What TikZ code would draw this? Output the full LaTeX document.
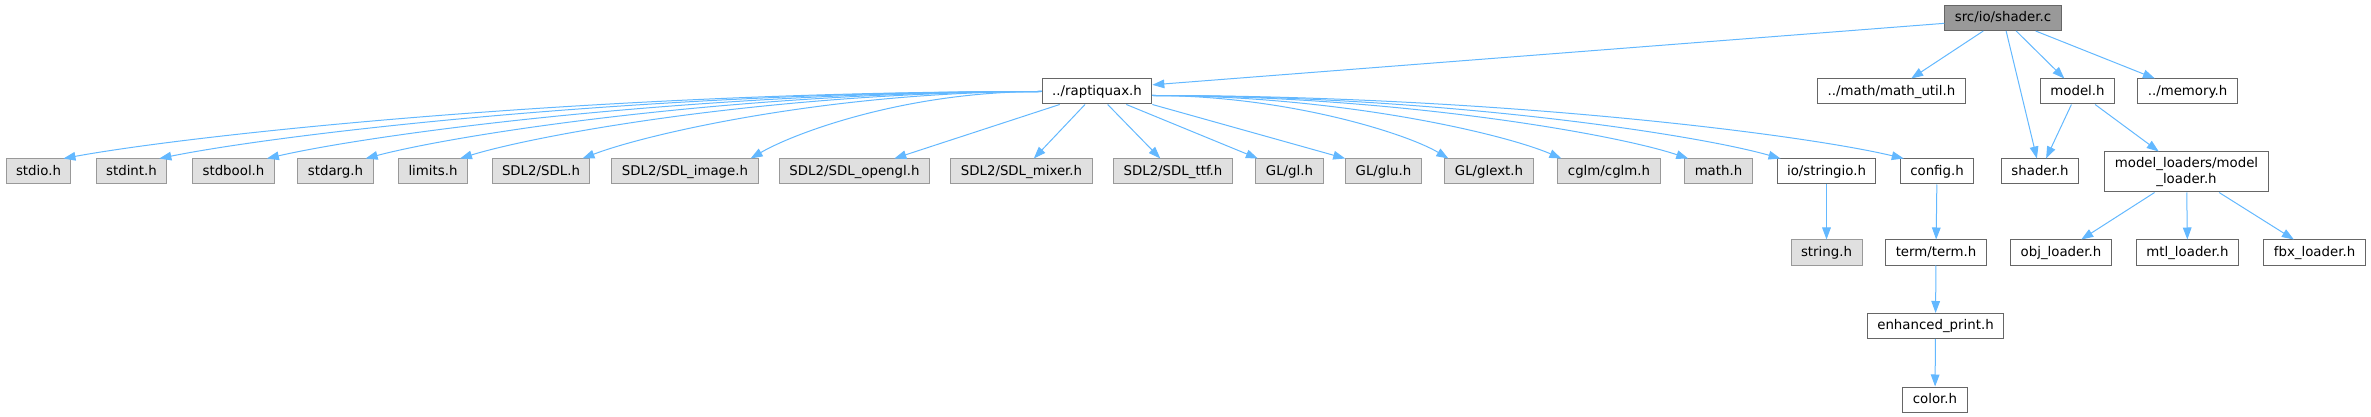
\documentclass[tikz,border=0pt]{standalone}
\usepackage{fontspec}
\setmainfont{DejaVu Sans}
\usetikzlibrary{arrows.meta}
\definecolor{edgeblue}{HTML}{63B8FF}
\definecolor{sysfill}{HTML}{E0E0E0}
\definecolor{sysline}{HTML}{999999}
\definecolor{locline}{HTML}{666666}
\definecolor{rootfill}{HTML}{999999}

\begin{document}
\begin{tikzpicture}[x=0.75pt,y=0.75pt,
    hdr/.style={draw,rectangle,font=\fontsize{10}{12}\selectfont,
        inner xsep=7.5pt,inner ysep=0pt,minimum height=18.75pt,line width=0.75pt},
    one/.style={hdr,text height=7.5pt,text depth=2pt},
    sys/.style={one,fill=sysfill,draw=sysline},
    loc/.style={one,fill=white,draw=locline},
    root/.style={one,fill=rootfill,draw=locline},
    dep/.style={draw=edgeblue,line width=0.75pt,
        -{Triangle[length=9pt,width=6.5pt]}}]
    \useasboundingbox (0,0) rectangle (2371,-417);

    % Fichero raiz y primer nivel de inclusiones.
    \node[root] (src) at (2003,-18) {src/io/shader.c};
    \node[loc] (rap) at (1097,-91.5) {../raptiquax.h};
    \node[loc] (mu) at (1891.5,-91.5) {../math/math\_util.h};
    \node[loc] (mdl) at (2077.5,-91.5) {model.h};
    \node[loc] (mem) at (2187.5,-91.5) {../memory.h};

    % Cabeceras del sistema y locales que cuelgan de raptiquax.h.
    \node[sys] (stdio) at (38.5,-171.5) {stdio.h};
    \node[sys] (stdint) at (131.5,-171.5) {stdint.h};
    \node[sys] (stdbool) at (233.5,-171.5) {stdbool.h};
    \node[sys] (stdarg) at (335.5,-171.5) {stdarg.h};
    \node[sys] (limits) at (433,-171.5) {limits.h};
    \node[sys] (sdl) at (541,-171.5) {SDL2/SDL.h};
    \node[sys] (sdlimg) at (685,-171.5) {SDL2/SDL\_image.h};
    \node[sys] (sdlgl) at (854.5,-171.5) {SDL2/SDL\_opengl.h};
    \node[sys] (mix) at (1021.5,-171.5) {SDL2/SDL\_mixer.h};
    \node[sys] (ttf) at (1173,-171.5) {SDL2/SDL\_ttf.h};
    \node[sys] (gl) at (1289.5,-171.5) {GL/gl.h};
    \node[sys] (glu) at (1383.5,-171.5) {GL/glu.h};
    \node[sys] (glext) at (1489,-171.5) {GL/glext.h};
    \node[sys] (cglm) at (1609,-171.5) {cglm/cglm.h};
    \node[sys] (mathh) at (1718.5,-171.5) {math.h};
    \node[loc] (sio) at (1826.5,-171.5) {io/stringio.h};
    \node[loc] (cfg) at (1937,-171.5) {config.h};
    \node[loc] (sh) at (2040,-171.5) {shader.h};
    \node[hdr,fill=white,draw=locline,align=center,minimum height=30pt]
        (ldr) at (2186.5,-172) {model\_loaders/model\\\_loader.h};

    % Niveles inferiores.
    \node[sys] (str) at (1826.5,-252.5) {string.h};
    \node[loc] (term) at (1936,-252.5) {term/term.h};
    \node[loc] (obj) at (2061,-252.5) {obj\_loader.h};
    \node[loc] (mtl) at (2187.5,-252.5) {mtl\_loader.h};
    \node[loc] (fbx) at (2314.5,-252.5) {fbx\_loader.h};
    \node[loc] (eprint) at (1935.5,-326) {enhanced\_print.h};
    \node[loc] (col) at (1935,-399.5) {color.h};

    % Aristas desde el fichero raiz.
    \draw[dep] ([yshift=-4pt]src.west) -- ([yshift=5pt]rap.east);
    \draw[dep] (src) -- (mu);
    \draw[dep] (src) -- (sh);
    \draw[dep] (src) -- (mdl);
    \draw[dep] (src) -- (mem);
    \draw[dep] (mdl) -- (sh);
    \draw[dep] (mdl) -- (ldr);
    \foreach \n in {obj,mtl,fbx}
        \draw[dep] (ldr) -- (\n);

    % Aristas de raptiquax.h: curvas a izquierda y derecha, rectas al centro.
    \foreach \n/\d in {stdio/976,stdint/883,stdbool/778,stdarg/678,
        limits/581,sdl/465,sdlimg/305}
        \draw[dep] (rap.west) .. controls +({-0.45*\d},0) and +({0.14*\d},25)
            .. ([xshift=-6pt]\n.north east);
    \draw[dep] ([xshift=-28pt]rap.south) -- (sdlgl);
    \draw[dep] ([xshift=-9pt]rap.south) -- (mix);
    \draw[dep] ([xshift=8pt]rap.south) -- (ttf);
    \draw[dep] ([xshift=22pt]rap.south) -- (gl);
    \draw[dep] (rap.south east) -- (glu.north west);
    \foreach \n/\d in {glext/299,cglm/416,mathh/534,sio/632,cfg/751}
        \draw[dep] ([yshift=-3pt]rap.east) .. controls +({0.45*\d},0)
            and +({-0.14*\d},25) .. ([xshift=3pt]\n.north west);

    % Cadenas verticales.
    \draw[dep] (sio) -- (str);
    \draw[dep] (cfg) -- (term);
    \draw[dep] (term) -- (eprint);
    \draw[dep] (eprint) -- (col);
\end{tikzpicture}
\end{document}
